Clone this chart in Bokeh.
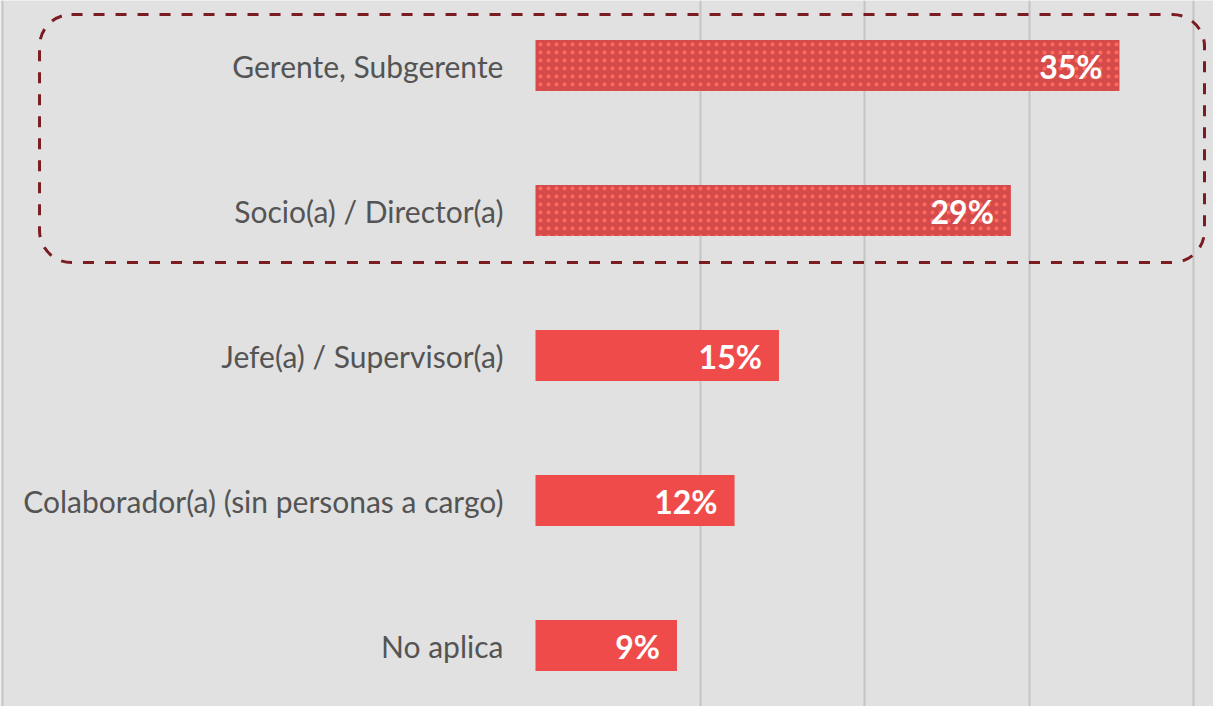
from bokeh.plotting import figure
from bokeh.models import ColumnDataSource, Range1d, FixedTicker, BoxAnnotation, Span
from bokeh.core.properties import value
from bokeh.embed import file_html
from bokeh.resources import INLINE

categories = ["Gerente, Subgerente", "Socio(a) / Director(a)", "Jefe(a) / Supervisor(a)",
              "Colaborador(a) (sin personas a cargo)", "No aplica"]
values = [35.5, 28.9, 14.8, 12.1, 8.6]
value_labels = ["35%", "29%", "15%", "12%", "9%"]
highlighted = [True, True, False, False, False]

W, H = 1213, 706
px_per_unit_x = 16.45
zero_px = 535
px_per_row = 145
first_row_px = 65

x_start = -zero_px / px_per_unit_x
x_end = x_start + W / px_per_unit_x
y_top = -first_row_px / px_per_row
y_bottom = y_top + H / px_per_row

p = figure(width=W, height=H, output_backend="svg", toolbar_location=None,
           x_range=Range1d(x_start, x_end), y_range=Range1d(y_bottom, y_top),
           min_border=0, min_border_left=0, min_border_right=0,
           min_border_top=0, min_border_bottom=0)
p.background_fill_color = "#e1e1e1"
p.border_fill_color = "#e1e1e1"
p.outline_line_color = None
p.xaxis.visible = False
p.yaxis.visible = False
p.ygrid.visible = False
p.xgrid.ticker = FixedTicker(ticks=[10, 20, 30, 40])
p.xgrid.grid_line_color = "#c4c4c4"
p.xgrid.grid_line_width = 2

ypos = list(range(len(categories)))
plain = dict(y=[y for y, h in zip(ypos, highlighted) if not h],
             right=[v for v, h in zip(values, highlighted) if not h])
hl = dict(y=[y for y, h in zip(ypos, highlighted) if h],
          right=[v for v, h in zip(values, highlighted) if h])

p.hbar(y="y", left=0, right="right", height=0.352, source=ColumnDataSource(plain),
       fill_color="#f04b4b", line_color=None)
p.hbar(y="y", left=0, right="right", height=0.352, source=ColumnDataSource(hl),
       fill_color="#d54b4b", line_color=None,
       hatch_pattern="dot", hatch_color="#ff6a5c", hatch_scale=8, hatch_weight=1.2)

src = ColumnDataSource(dict(y=ypos, x=values, cat=categories, lab=value_labels,
                            lx=[-1.95] * len(categories)))
p.text(x="lx", y="y", text="cat", source=src, text_align="right", text_baseline="middle",
       text_font=value("Lato"), text_font_size="30px", text_color="#545454")
p.text(x="x", y="y", text="lab", source=src, text_align="right", text_baseline="middle",
       x_offset=-17, y_offset=1,
       text_font=value("Lato"), text_font_style="bold", text_font_size="32px",
       text_color="white")

# highlight box around top two categories
box = BoxAnnotation(left=-30.15, right=40.67, top=-0.352, bottom=1.359,
                    fill_alpha=0, line_color="#7b1c22", line_alpha=1, line_width=3,
                    line_dash="11 11", border_radius=32)
p.add_layout(box)

p.add_layout(Span(location=2, location_units="screen", dimension="height",
                  line_color="#c6c6c6", line_width=2))

open("out.html", "w").write(file_html(p, INLINE))
